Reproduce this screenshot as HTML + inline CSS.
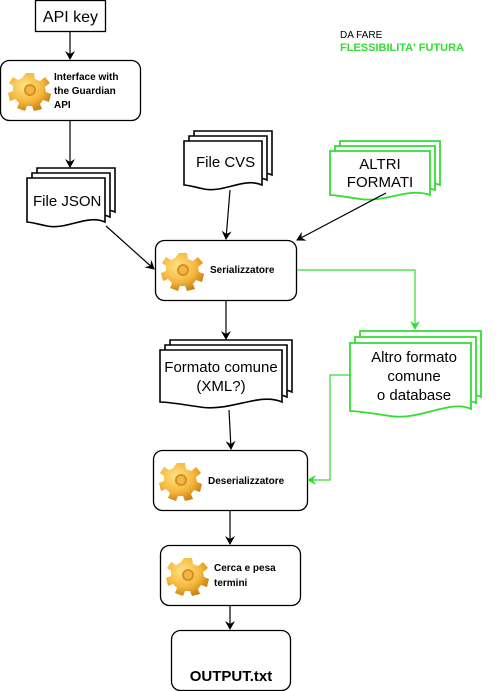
<!DOCTYPE html>
<html><head><meta charset="utf-8"><style>
body{margin:0;background:#fff;}
svg{display:block;font-family:"Liberation Sans",Arial,sans-serif;}
</style></head><body>
<svg width="501" height="691" viewBox="0 0 501 691" xmlns="http://www.w3.org/2000/svg">
<defs>
<marker id="ab" markerWidth="10" markerHeight="10" refX="8" refY="5" orient="auto" markerUnits="userSpaceOnUse"><path d="M0,0 L9,5 L0,10 L3,5 z" fill="#000"/></marker>
<marker id="ag" markerWidth="10" markerHeight="10" refX="8" refY="5" orient="auto" markerUnits="userSpaceOnUse"><path d="M0,0 L9,5 L0,10 L3,5 z" fill="#33dd33"/></marker>
<radialGradient id="gg" cx="40%" cy="35%" r="70%"><stop offset="0" stop-color="#ffe58a"/><stop offset="0.6" stop-color="#f4b63a"/><stop offset="1" stop-color="#c87a10"/></radialGradient>
<g id="gear">
<path fill="url(#gg)" d="M-4,-17 L4,-17 L5,-11 L10,-9 L15,-13 L20,-7 L15,-3 L16,2 L21,4 L19,12 L13,10 L10,14 L12,19 L4,21 L2,16 L-3,16 L-5,21 L-13,18 L-11,13 L-15,9 L-20,11 L-22,3 L-17,1 L-17,-4 L-21,-7 L-17,-13 L-12,-10 L-8,-12 Z"/>
<circle r="6" fill="#d98f1c"/><circle r="4" fill="#f0b648"/>
</g>
</defs>

<g stroke="#000" stroke-width="1.3" fill="#fff">
<rect x="35.5" y="0.5" width="70" height="31"/>
<rect x="0.5" y="60.5" width="140" height="60" rx="9"/>
<rect x="155.5" y="240.5" width="141" height="60" rx="9"/>
<rect x="153.5" y="450.5" width="154" height="60" rx="9"/>
<rect x="160.5" y="545.5" width="140" height="60" rx="9"/>
<rect x="171.5" y="630.5" width="119" height="60" rx="9"/>
</g>

<g stroke="#000" stroke-width="1.6" fill="#fff">
<path d="M37,168 H115 V212 C97,204 77,220 57,216 C47,214 41,212 37,212 Z"/>
<path d="M32,173 H110 V217 C92,209 72,225 52,221 C42,219 36,217 32,217 Z"/>
<path d="M27,178 H105 V222 C87,214 67,230 47,226 C37,224 31,222 27,222 Z"/>

<path d="M194,131 H272 V175 C254,167 234,183 214,179 C204,177 198,175 194,175 Z"/>
<path d="M189,136 H267 V180 C249,172 229,188 209,184 C199,182 193,180 189,180 Z"/>
<path d="M184,141 H262 V185 C244,177 224,193 204,189 C194,187 188,185 184,185 Z"/>

<path d="M170,340 H292 V392 C270,382 240,402 210,397 C190,394 178,392 170,392 Z"/>
<path d="M165,345 H287 V397 C265,387 235,407 205,402 C185,399 173,397 165,397 Z"/>
<path d="M160,350 H282 V402 C260,392 230,412 200,407 C180,404 168,402 160,402 Z"/>
</g>
<g stroke="#33dd33" stroke-width="1.8" fill="#fff">
<path d="M340,141 H440 V185 C418,177 395,193 370,189 C355,187 346,185 340,185 Z"/>
<path d="M335,146 H435 V190 C413,182 390,198 365,194 C350,192 341,190 335,190 Z"/>
<path d="M330,151 H430 V195 C408,187 385,203 360,199 C345,197 336,195 330,195 Z"/>

<path d="M360,331 H481 V397 C460,387 430,409 400,404 C380,401 368,399 360,399 Z"/>
<path d="M355,337 H476 V403 C455,393 425,415 395,410 C375,407 363,405 355,405 Z"/>
<path d="M350,343 H471 V409 C450,399 420,421 390,416 C370,413 358,411 350,411 Z"/>
</g>

<g stroke="#000" stroke-width="1.2" fill="none" marker-end="url(#ab)">
<line x1="70" y1="31" x2="70" y2="59"/>
<line x1="70" y1="121" x2="70" y2="167"/>
<line x1="106" y1="226" x2="154" y2="269"/>
<line x1="230" y1="190" x2="226" y2="239"/>
<line x1="386" y1="193" x2="297" y2="240"/>
<line x1="226" y1="301" x2="226" y2="339"/>
<line x1="229" y1="410" x2="231" y2="449"/>
<line x1="230" y1="511" x2="230" y2="544"/>
<line x1="230" y1="606" x2="230" y2="629"/>
</g>
<g stroke="#33dd33" stroke-width="1.2" fill="none" marker-end="url(#ag)">
<polyline points="297,270 415,270 415,329"/>
<polyline points="350,375 330,375 330,480 308,480"/>
</g>

<use href="#gear" x="30" y="90"/>
<use href="#gear" x="183" y="270"/>
<use href="#gear" x="181" y="480"/>
<use href="#gear" x="188" y="575"/>

<g fill="#000">
<text x="70.5" y="22" font-size="16" text-anchor="middle">API key</text>
<text x="54" y="80" font-size="10" font-weight="bold">Interface with</text>
<text x="54" y="94" font-size="10" font-weight="bold">the Guardian</text>
<text x="54" y="108" font-size="10" font-weight="bold">API</text>
<text x="33" y="206" font-size="15">File JSON</text>
<text x="196" y="167" font-size="15">File CVS</text>
<text x="380" y="169" font-size="15" text-anchor="middle">ALTRI</text>
<text x="380" y="187" font-size="15" text-anchor="middle">FORMATI</text>
<text x="210" y="273" font-size="10" font-weight="bold">Serializzatore</text>
<text x="221" y="372" font-size="15" text-anchor="middle">Formato comune</text>
<text x="221" y="391" font-size="15" text-anchor="middle">(XML?)</text>
<text x="414" y="362" font-size="15" text-anchor="middle">Altro formato</text>
<text x="414" y="381" font-size="15" text-anchor="middle">comune</text>
<text x="414" y="400" font-size="15" text-anchor="middle">o database</text>
<text x="208" y="484" font-size="10" font-weight="bold">Deserializzatore</text>
<text x="214" y="571" font-size="10" font-weight="bold">Cerca e pesa</text>
<text x="214" y="586" font-size="10" font-weight="bold">termini</text>
<text x="231" y="681" font-size="15" font-weight="bold" text-anchor="middle">OUTPUT.txt</text>
<text x="340" y="38" font-size="10">DA FARE</text>
</g>
<text x="340" y="51" font-size="11" font-weight="bold" fill="#33dd33">FLESSIBILITA' FUTURA</text>
</svg>
</body></html>
